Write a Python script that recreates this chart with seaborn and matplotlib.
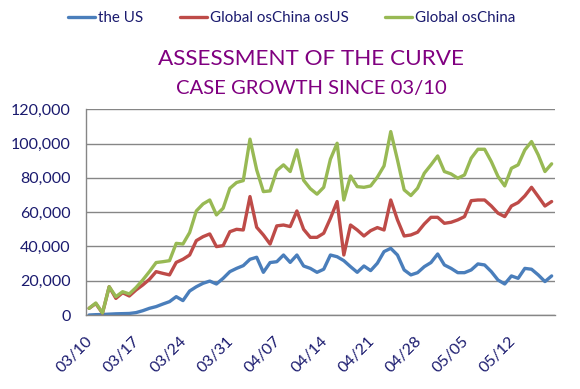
import matplotlib
matplotlib.use("Agg")
import matplotlib.pyplot as plt
import pandas as pd
import seaborn as sns

# daily new cases, 03/10 .. 05/18 (thousands)
dates = pd.date_range("2020-03-10", periods=70, freq="D")
us = [0, 0.2, 0.3, 0.5, 0.7, 0.8, 0.9, 1.4, 2.5, 3.9,
      4.9, 6.4, 7.8, 10.7, 8.4, 14.0, 16.5, 18.5, 19.8, 18.1,
      21.4, 25.3, 27.2, 28.8, 32.5, 33.7, 24.9, 30.6, 31.1, 35.0,
      30.7, 35.0, 28.6, 27.2, 24.9, 26.7, 35.0, 34.0, 31.7, 28.2,
      24.9, 28.6, 25.9, 30.2, 37.0, 38.9, 35.0, 26.3, 23.4, 24.7,
      28.2, 30.6, 35.6, 29.2, 27.2, 24.7, 24.7, 26.3, 29.8, 29.2,
      25.3, 20.4, 18.1, 22.8, 21.4, 27.2, 26.7, 23.4, 19.5, 22.8]
ex_china_us = [3.9, 6.7, 1.1, 16.5, 9.7, 13.0, 11.1, 14.6, 17.5, 20.8,
               25.3, 24.3, 23.4, 30.7, 32.5, 35.0, 43.4, 45.7, 47.3, 39.9,
               40.5, 48.6, 50.0, 49.6, 69.1, 51.2, 46.7, 41.4, 52.0, 52.5,
               51.6, 60.7, 50.0, 45.3, 45.3, 47.7, 56.4, 66.2, 35.0, 52.5,
               49.6, 46.1, 49.2, 51.0, 49.6, 67.1, 55.5, 46.1, 46.7, 48.3,
               53.1, 57.0, 57.0, 53.5, 54.1, 55.5, 57.4, 66.7, 67.1, 67.1,
               63.6, 59.4, 57.4, 63.6, 65.6, 69.5, 74.5, 69.1, 63.6, 66.2]
ex_china = [3.9, 7.0, 1.2, 16.5, 10.7, 13.6, 12.3, 16.0, 20.4, 25.3,
            30.6, 31.1, 31.7, 41.8, 41.4, 48.1, 60.7, 64.8, 67.1, 58.4,
            62.3, 73.9, 77.3, 78.4, 102.6, 84.7, 72.0, 72.4, 84.3, 87.6,
            83.7, 96.3, 78.6, 73.7, 70.5, 74.5, 90.9, 100.2, 67.1, 81.1,
            74.9, 74.5, 75.3, 80.4, 87.0, 107.0, 90.5, 73.0, 69.7, 74.0,
            82.7, 87.6, 92.8, 83.7, 82.3, 79.8, 81.7, 91.5, 96.7, 96.7,
            89.5, 80.8, 75.3, 85.6, 87.6, 96.3, 101.2, 93.4, 83.7, 88.2]
series_names = ["the US", "Global osChina osUS", "Global osChina"]
colors = ["#4A7EBB", "#BE4B48", "#98B954"]

frames = []
for name, vals in zip(series_names, [us, ex_china_us, ex_china]):
    frames.append(pd.DataFrame({
        "day": [i + 0.5 for i in range(len(dates))],
        "cases": [v * 1000 for v in vals],
        "series": name,
    }))
df = pd.concat(frames, ignore_index=True)

sns.set_style("white")
plt.rcParams["font.family"] = ["Lato", "DejaVu Sans"]
navy = "#1A1A6E"
grid_c = "#868686"

fig = plt.figure(figsize=(5.8, 3.89), dpi=100)
ax = fig.add_axes([0.1478, 0.1902, 0.8091, 0.5288])
sns.lineplot(data=df, x="day", y="cases", hue="series", hue_order=series_names,
             palette=colors, linewidth=2.4, ax=ax, legend=False)

ax.set_xlim(0, 70)
ax.set_ylim(0, 120000)
ax.set_yticks(range(0, 120001, 20000))
ax.set_yticklabels([f"{v:,}" for v in range(0, 120001, 20000)])
ax.set_xticks(range(0, 71, 7))
tick_labels = [d.strftime("%m/%d") for d in dates[::7]] + [""]
ax.set_xticklabels(tick_labels, rotation=45, ha="right", rotation_mode="anchor")
ax.set_xlabel("")
ax.set_ylabel("")
ax.yaxis.grid(True, color=grid_c, linewidth=1)
ax.xaxis.grid(False)
ax.set_axisbelow(True)
for s in ["top", "right"]:
    ax.spines[s].set_visible(False)
for s in ["left", "bottom"]:
    ax.spines[s].set_color(grid_c)
    ax.spines[s].set_linewidth(1)
ax.tick_params(axis="both", colors=grid_c, length=4, width=1, direction="out",
               labelcolor=navy, labelsize=11.5)
ax.tick_params(axis="y", pad=7)
ax.tick_params(axis="x", pad=10)

handles = [plt.Line2D([], [], color=c, linewidth=2.4) for c in colors]
fig.legend(handles, series_names, loc="center", bbox_to_anchor=(0.503, 0.953),
           ncol=3, frameon=False, fontsize=10.9, labelcolor=navy,
           handlelength=1.8, handletextpad=0.2, columnspacing=2.4)

fig.text(0.536, 0.848, "ASSESSMENT OF THE CURVE", ha="center", va="center",
         color="#800080", fontsize=16.2)
fig.text(0.536, 0.773, "CASE GROWTH SINCE 03/10", ha="center", va="center",
         color="#800080", fontsize=14.6)

fig.savefig("out.png", dpi=100)
